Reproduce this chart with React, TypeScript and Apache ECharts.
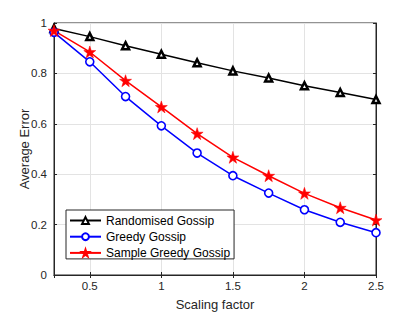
import React, { useEffect, useRef } from "react";
import * as echarts from "echarts";

const scalingFactors = [0.25, 0.5, 0.75, 1, 1.25, 1.5, 1.75, 2, 2.25, 2.5];
const randomisedGossip = [0.978, 0.946, 0.91, 0.876, 0.842, 0.81, 0.782, 0.751, 0.724, 0.696];
const greedyGossip = [0.963, 0.846, 0.708, 0.592, 0.484, 0.394, 0.325, 0.259, 0.209, 0.168];
const sampleGreedyGossip = [0.97, 0.885, 0.771, 0.667, 0.561, 0.467, 0.394, 0.324, 0.267, 0.218];
const seriesNames = ["Randomised Gossip", "Greedy Gossip", "Sample Greedy Gossip"];

const STAR =
  "path://M50,0 L61.8,35.1 L98.9,35.1 L69.1,56.7 L80.3,91.9 L50,70.3 L19.7,91.9 L30.9,56.7 L1.1,35.1 L38.2,35.1 Z";

const FONT = "Liberation Sans, Arial, Helvetica, sans-serif";
const AX = "#262626";

export default function App() {
  const ref = useRef<HTMLDivElement>(null);
  useEffect(() => {
    if (!ref.current) return;
    const chart = echarts.init(ref.current, undefined, { renderer: "svg" });
    const pair = (ys: number[]) => scalingFactors.map((x, i) => [x, ys[i]]);
    chart.setOption({
      animation: false,
      backgroundColor: "#ffffff",
      textStyle: { fontFamily: FONT },
      grid: {
        left: 54,
        right: 39,
        top: 23,
        bottom: 37,
        show: true,
        outerBoundsMode: "none",
        containLabel: false,
        borderColor: AX,
        borderWidth: 1,
        backgroundColor: "transparent",
      },
      legend: {
        orient: "vertical",
        left: 66,
        top: 210,
        data: seriesNames,
        itemWidth: 31,
        itemHeight: 8.5,
        itemGap: 4.2,
        padding: [4.5, 4, 0, 3],
        backgroundColor: "#ffffff",
        borderColor: AX,
        borderWidth: 1,
        borderRadius: 0,
        textStyle: { fontFamily: FONT, fontSize: 12, color: "#000000" },
      },
      xAxis: [
        {
          type: "value",
          min: 0.25,
          max: 2.5,
          splitNumber: 5,
          name: "Scaling factor",
          nameLocation: "middle",
          nameGap: 23,
          nameMoveOverlap: false,
          nameTextStyle: { fontFamily: FONT, fontSize: 13, color: AX },
          axisLine: { show: true, lineStyle: { color: AX, width: 1 } },
          axisTick: { show: true, inside: true, length: 3, lineStyle: { color: AX } },
          axisLabel: {
            fontFamily: FONT,
            fontSize: 11.5,
            color: AX,
            margin: 5,
            showMinLabel: false,
            formatter: (v: number) => (Math.abs(v - 0.25) < 1e-9 ? "" : String(v)),
          },
          splitLine: { show: true, lineStyle: { color: "#e3e3e3", width: 1 } },
        },
        {
          type: "value",
          position: "top",
          min: 0.25,
          max: 2.5,
          splitNumber: 5,
          axisLine: { show: true, lineStyle: { color: AX, width: 1 } },
          axisTick: { show: true, inside: true, length: 3, lineStyle: { color: AX } },
          axisLabel: { show: false },
          splitLine: { show: false },
        },
      ],
      yAxis: [
        {
          type: "value",
          min: 0,
          max: 1,
          interval: 0.2,
          name: "Average Error",
          nameLocation: "middle",
          nameGap: 23.5,
          nameMoveOverlap: false,
          nameTextStyle: { fontFamily: FONT, fontSize: 13, color: AX },
          axisLine: { show: true, lineStyle: { color: AX, width: 1 } },
          axisTick: { show: true, inside: true, length: 3, lineStyle: { color: AX } },
          axisLabel: { fontFamily: FONT, fontSize: 11.5, color: AX, margin: 7 },
          splitLine: { show: true, lineStyle: { color: "#e3e3e3", width: 1 } },
        },
        {
          type: "value",
          position: "right",
          min: 0,
          max: 1,
          interval: 0.2,
          axisLine: { show: true, lineStyle: { color: AX, width: 1 } },
          axisTick: { show: true, inside: true, length: 3, lineStyle: { color: AX } },
          axisLabel: { show: false },
          splitLine: { show: false },
        },
      ],
      series: [
        {
          name: seriesNames[0],
          type: "line",
          data: pair(randomisedGossip),
          symbol: "triangle",
          symbolSize: 7,
          lineStyle: { color: "#000000", width: 1.5 },
          itemStyle: { color: "#ffffff", borderColor: "#000000", borderWidth: 2.5 },
          emphasis: { disabled: true },
        },
        {
          name: seriesNames[1],
          type: "line",
          data: pair(greedyGossip),
          symbol: "circle",
          symbolSize: 8,
          lineStyle: { color: "#0000ff", width: 1.5 },
          itemStyle: { color: "#ffffff", borderColor: "#0000ff", borderWidth: 1.6 },
          emphasis: { disabled: true },
        },
        {
          name: seriesNames[2],
          type: "line",
          data: pair(sampleGreedyGossip),
          symbol: STAR,
          symbolSize: 12,
          lineStyle: { color: "#ff0000", width: 1.5 },
          itemStyle: { color: "#ff0000", borderColor: "#ff0000", borderWidth: 0.5 },
          emphasis: { disabled: true },
        },
      ],
    });
    return () => chart.dispose();
  }, []);
  return (
    <div
      ref={ref}
      style={{ position: "fixed", left: 0, top: 0, width: 415, height: 312, background: "#fff" }}
    />
  );
}
